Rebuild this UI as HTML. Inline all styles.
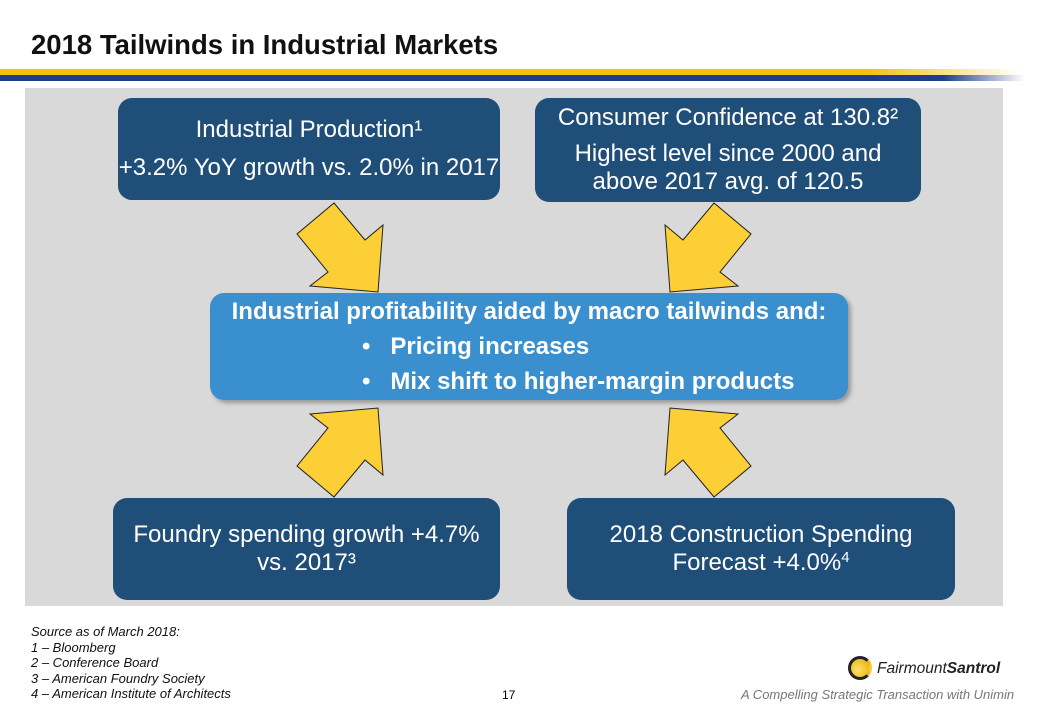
<!DOCTYPE html>
<html><head><meta charset="utf-8"><style>
body{margin:0;width:1040px;height:720px;background:#fff;font-family:"Liberation Sans",sans-serif;position:relative;overflow:hidden}
.abs{position:absolute}
.box{position:absolute;background:#1f4e79;color:#fff;border-radius:14px;display:flex;flex-direction:column;justify-content:center;align-items:center;text-align:center;font-size:24px;line-height:28px}
</style></head><body>
<div class="abs" style="left:31px;top:29px;font-size:27.5px;font-weight:bold;color:#111">2018 Tailwinds in Industrial Markets</div>
<div class="abs" style="left:0;top:69px;width:1020px;height:6px;background:linear-gradient(90deg,#f2c20f 85%,#fff)"></div>
<div class="abs" style="left:0;top:75px;width:1025px;height:6px;background:linear-gradient(90deg,#1f3d8a 92%,#fff)"></div>
<div class="abs" style="left:25px;top:88px;width:978px;height:518px;background:#d9d9d9"></div>
<svg class="abs" style="left:0;top:0" width="1040" height="720">
<g fill="#fccf36" stroke="#222" stroke-width="1">
<polygon points="334,203 365,240 383,225 378,292 310,286 328,272 297,234"/>
<polygon points="714,203 683,240 665,225 670,292 738,286 720,272 751,234"/>
<polygon points="334,497 365,460 383,475 378,408 310,414 328,428 297,466"/>
<polygon points="714,497 683,460 665,475 670,408 738,414 720,428 751,466"/>
</g></svg>
<div class="box" style="left:118px;top:98px;width:382px;height:102px"><div>Industrial Production¹</div><div style="margin-top:10px">+3.2% YoY growth vs. 2.0% in 2017</div></div>
<div class="box" style="left:535px;top:98px;width:386px;height:104px"><div>Consumer Confidence at 130.8²</div><div style="margin-top:8px">Highest level since 2000 and<br>above 2017 avg. of 120.5</div></div>
<div class="box" style="left:210px;top:293px;width:638px;height:107px;background:#3a8fce;font-weight:bold;align-items:stretch;box-shadow:3px 3px 4px rgba(0,0,0,.3)">
<div style="text-align:center">Industrial profitability aided by macro tailwinds and:</div>
<div style="text-align:left;padding-left:152px;margin-top:7px">•&nbsp;&nbsp; Pricing increases</div>
<div style="text-align:left;padding-left:152px;margin-top:7px">•&nbsp;&nbsp; Mix shift to higher-margin products</div></div>
<div class="box" style="left:113px;top:498px;width:387px;height:102px"><div>Foundry spending growth +4.7%<br>vs. 2017³</div></div>
<div class="box" style="left:567px;top:498px;width:388px;height:102px"><div>2018 Construction Spending<br>Forecast +4.0%<sup style="font-size:15px;line-height:0;vertical-align:8px">4</sup></div></div>
<div class="abs" style="left:31px;top:624px;font-size:13px;line-height:15.5px;font-style:italic;color:#111">Source as of March 2018:<br>1 – Bloomberg<br>2 – Conference Board<br>3 – American Foundry Society<br>4 – American Institute of Architects</div>
<div class="abs" style="left:502px;top:688px;font-size:12px">17</div>
<div class="abs" style="left:848px;top:656px;width:24px;height:24px;border-radius:50%;background:radial-gradient(circle at 40% 60%,#fde36a,#e8a800);border:3px solid #222;border-right-color:transparent;box-sizing:border-box"></div>
<div class="abs" style="left:877px;top:660px;font-size:15.5px;font-style:italic;color:#222">Fairmount<b>Santrol</b></div>
<div class="abs" style="left:741px;top:687px;font-size:13px;font-style:italic;color:#777">A Compelling Strategic Transaction with Unimin</div>
</body></html>
